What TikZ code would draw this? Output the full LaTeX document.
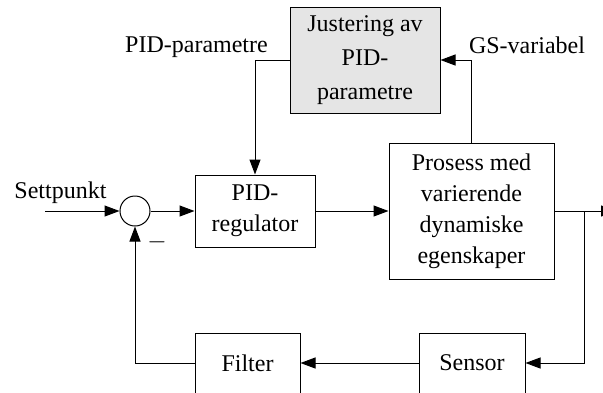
\documentclass[tikz,border=0pt]{standalone}
\usepackage{fontspec}
\setmainfont{Liberation Serif}
\usetikzlibrary{arrows.meta}

\begin{document}
\begin{tikzpicture}[x=1pt, y=-1pt, font=\fontsize{24}{31}\selectfont,
    blokk/.style={draw, line width=1pt, align=center, inner sep=0pt},
    pil/.style={-{Triangle[length=15pt, width=11pt]}, line width=1pt}]

\useasboundingbox (0,0) rectangle (603,392);

% ── Blokker ──
\node[blokk, fill=black!10, minimum width=150pt, minimum height=106pt, font=\fontsize{24}{34}\selectfont] (justering) at (365,60) {Justering av\\PID-\\parametre};
\node[blokk, minimum width=120pt, minimum height=72pt] (pid) at (255,211) {PID-\\regulator};
\node[blokk, minimum width=165pt, minimum height=136pt] (prosess) at (471.5,211) {Prosess med\\varierende\\dynamiske\\egenskaper};
\node[blokk, minimum width=105pt, minimum height=60pt] (filter) at (247.5,363) {Filter};
\node[blokk, minimum width=106pt, minimum height=60pt] (sensor) at (472,363) {Sensor};
\node[draw, circle, line width=1pt, minimum size=30pt, inner sep=0pt] (sum) at (135,211) {};

% ── Tekster ──
\node[anchor=base] (settpunkt) at (60.5,198) {Settpunkt};
\node[anchor=base] (pidparam) at (196.5,52) {PID-parametre};
\node[anchor=base] (gsvar) at (527,53) {GS-variabel};
\node (minus) at (157,242) {$-$};

% ── Punkter ──
\coordinate (inn) at (45,211);
\coordinate (grein) at (584,211);
\coordinate (ut) at (616,211);

% ── Signaler ──
\draw[pil] (inn) -- (sum);
\draw[pil] (sum) -- (pid);
\draw[pil] (pid) -- (prosess);
\draw[pil] (prosess) -- (ut);
\draw[pil] (grein) |- (sensor);
\draw[pil] (sensor) -- (filter);
\draw[pil] (filter) -| (sum);
\draw[pil] (justering) -| (pid);
\draw[pil] (prosess) |- (justering);

\end{tikzpicture}
\end{document}
